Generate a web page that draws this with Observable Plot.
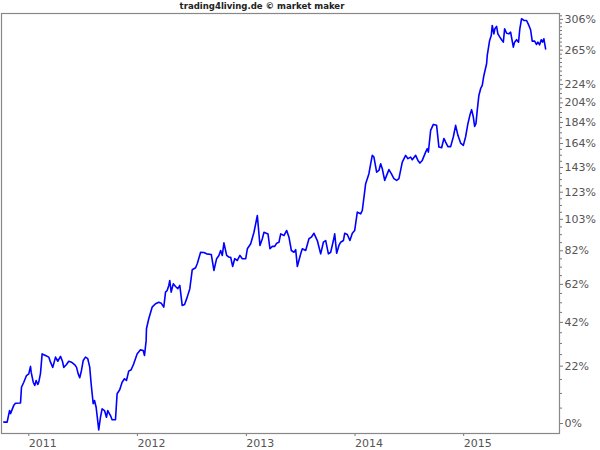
<!DOCTYPE html>
<html>
<head>
<meta charset="utf-8">
<script src="https://cdn.jsdelivr.net/npm/d3@7"></script>
<script src="https://cdn.jsdelivr.net/npm/@observablehq/plot@0.6"></script>
<style>
  html, body { margin: 0; padding: 0; background: #fff; }
  #title { height: 12px; line-height: 12px; font: bold 9.5px "DejaVu Sans Condensed", "DejaVu Sans", sans-serif; color: #222; width: 524px; text-align: center; white-space: nowrap; }
</style>
</head>
<body>
<div id="title">trading4living.de © market maker</div>
<div id="chart"></div>
<script>
// time as decimal year
const years = [
2010.770,2010.801,2010.823,2010.832,2010.862,2010.878,2010.924,2010.933,2010.954,2010.979,
2011.000,2011.016,2011.022,2011.041,2011.055,2011.068,2011.083,2011.092,2011.108,2011.123,
2011.154,2011.184,2011.200,2011.221,2011.246,2011.267,2011.292,2011.310,2011.322,2011.347,
2011.368,2011.393,2011.421,2011.439,2011.455,2011.469,2011.485,2011.501,2011.522,2011.543,
2011.561,2011.574,2011.593,2011.605,2011.620,2011.629,2011.644,2011.660,2011.675,2011.697,
2011.715,2011.727,2011.752,2011.767,2011.798,2011.813,2011.837,2011.859,2011.881,2011.899,
2011.920,2011.942,2011.966,2011.997,2012.028,2012.053,2012.065,2012.080,2012.083,2012.104,
2012.135,2012.166,2012.196,2012.218,2012.242,2012.258,2012.273,2012.288,2012.297,2012.310,
2012.329,2012.350,2012.371,2012.389,2012.411,2012.433,2012.457,2012.481,2012.503,2012.534,
2012.549,2012.580,2012.610,2012.635,2012.678,2012.702,2012.727,2012.748,2012.764,2012.779,
2012.794,2012.819,2012.840,2012.856,2012.874,2012.893,2012.917,2012.941,2012.963,2012.994,
2013.009,2013.040,2013.070,2013.101,2013.125,2013.147,2013.162,2013.199,2013.217,2013.239,
2013.261,2013.279,2013.300,2013.316,2013.346,2013.371,2013.392,2013.414,2013.438,2013.454,
2013.469,2013.500,2013.515,2013.546,2013.576,2013.598,2013.622,2013.653,2013.684,2013.709,
2013.730,2013.755,2013.776,2013.801,2013.813,2013.831,2013.852,2013.868,2013.893,2013.905,
2013.929,2013.953,2013.975,2013.997,2014.021,2014.052,2014.067,2014.098,2014.128,2014.144,
2014.159,2014.174,2014.199,2014.220,2014.236,2014.251,2014.273,2014.291,2014.312,2014.334,
2014.358,2014.383,2014.404,2014.435,2014.466,2014.487,2014.512,2014.527,2014.558,2014.579,
2014.597,2014.619,2014.650,2014.665,2014.675,2014.696,2014.721,2014.751,2014.772,2014.797,
2014.818,2014.834,2014.855,2014.880,2014.905,2014.926,2014.947,2014.972,2014.997,2015.018,
2015.039,2015.057,2015.073,2015.089,2015.101,2015.113,2015.125,2015.140,2015.156,2015.171,
2015.186,2015.211,2015.217,2015.239,2015.254,2015.263,2015.278,2015.287,2015.303,2015.315,
2015.333,2015.349,2015.365,2015.377,2015.395,2015.416,2015.432,2015.457,2015.469,2015.487,
2015.505,2015.517,2015.533,2015.554,2015.579,2015.600,2015.616,2015.631,2015.653,2015.671,
2015.683,2015.699,2015.714,2015.726,2015.738,2015.754
];
// performance in percent
const performance = [
0.5,0.5,4.6,3.5,6.5,7.3,7.4,13.4,15.4,18.1,
18.8,21.9,19.5,15.4,14.1,16.1,14.5,15.4,19.0,27.3,
26.6,25.9,23.7,21.5,25.9,24.1,26.2,24.1,21.5,22.7,
24.1,23.7,22.7,21.6,18.8,17.2,20.2,24.4,25.9,25.2,
21.6,14.8,7.1,8.3,5.8,2.8,-2.2,2.2,5.2,4.6,
2.2,4.6,2.8,1.3,1.3,10.9,12.4,15.4,16.8,16.1,
19.9,20.5,23.0,27.3,29.1,28.8,26.6,33.3,38.9,43.8,
49.7,51.5,52.3,51.8,49.7,57.7,58.6,61.4,64.2,57.7,
62.3,60.8,59.6,61.4,50.6,51.1,55.0,59.6,70.4,71.6,
74.0,81.1,80.9,80.1,79.7,70.0,77.1,79.1,82.2,79.1,
87.1,79.1,78.0,78.0,72.4,77.1,76.0,79.1,77.1,77.1,
83.3,86.5,94.1,105.7,85.4,89.8,94.1,93.0,83.3,84.8,
84.8,86.9,87.5,93.0,91.9,95.3,90.8,82.2,81.1,82.7,
72.4,80.1,83.3,82.2,89.8,90.8,93.4,88.6,80.1,87.5,
88.6,80.1,81.1,88.6,93.0,80.5,85.4,87.5,88.6,93.4,
92.6,88.6,93.4,95.3,108.1,106.9,109.3,129.7,137.8,146.1,
153.4,151.9,139.1,140.5,146.1,141.9,132.3,136.4,141.2,137.8,
133.7,132.3,133.7,147.5,153.4,150.5,151.9,149.6,153.4,149.0,
146.7,149.0,156.3,159.4,156.3,176.3,182.1,181.2,160.8,160.2,
168.7,165.3,161.2,161.2,170.3,181.2,171.6,164.4,162.3,170.3,
182.8,191.1,196.9,189.4,180.2,182.8,196.1,211.9,219.3,222.9,
234.3,248.1,258.3,277.4,283.9,297.6,286.2,293.0,296.2,286.2,
281.8,278.4,275.2,293.0,287.0,286.2,288.4,268.8,275.2,278.4,
275.2,293.0,307.0,304.5,304.5,297.6,291.7,276.5,276.5,272.2,
275.2,271.8,278.4,275.2,279.7,266.6
];
const yearTicks = [2011, 2012, 2013, 2014, 2015];
const pctTicks = [0, 22, 42, 62, 82, 103, 123, 143, 164, 184, 204, 224, 265, 306];
const xRange = [2010.749, 2015.882];
const pctRange = [-3.4, 314.4];

const toDate = (y) => {
  const Y = Math.floor(y);
  const s = Date.UTC(Y, 0, 1), e = Date.UTC(Y + 1, 0, 1);
  return new Date(s + (y - Y) * (e - s));
};
const data = years.map((y, i) => ({date: toDate(y), v: 100 + performance[i]}));

// minor ticks: subdivide between labelled ticks
const minor = [];
for (let i = 0; i < pctTicks.length - 1; i++) {
  const a = pctTicks[i], b = pctTicks[i + 1];
  const n = (b - a) > 30 ? 8 : 4;
  for (let k = 1; k < n; k++) minor.push(100 + a + (b - a) * k / n);
}
minor.push(100 + 306 + 5.1);

const chart = Plot.plot({
  width: 600,
  height: 438,
  marginTop: 1,
  marginBottom: 17,
  marginLeft: 1,
  marginRight: 41,
  style: {fontFamily: "DejaVu Sans, sans-serif", fontSize: "11px", color: "#555", background: "#fff"},
  x: {type: "utc", domain: xRange.map(toDate), axis: null},
  y: {type: "log", domain: pctRange.map(p => 100 + p), axis: null},
  marks: [
    Plot.axisX({ticks: yearTicks.map(toDate), tickSize: 3, tickPadding: 3, tickFormat: d => String(d.getUTCFullYear()), textAnchor: "start", dx: 0, fontSize: 11, stroke: "#777", fill: "#555", label: null}),
    Plot.axisY({anchor: "right", ticks: minor, tickSize: 2, tickFormat: () => "", stroke: "#777", label: null}),
    Plot.axisY({anchor: "right", ticks: pctTicks.map(p => 100 + p), tickSize: 3, tickPadding: 2, tickFormat: d => Math.round(d - 100) + "%", fontSize: 11, stroke: "#777", fill: "#555", label: null}),
    Plot.line(data, {x: "date", y: "v", stroke: "#0000ff", strokeWidth: 1.6}),
    Plot.frame({stroke: "#888", strokeWidth: 1.2})
  ]
});
document.getElementById("chart").appendChild(chart);
</script>
</body>
</html>
